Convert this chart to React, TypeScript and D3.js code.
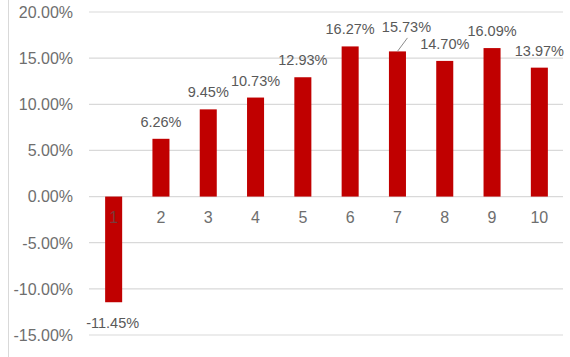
import React from "react";
import * as d3 from "d3";

const categories = ["1", "2", "3", "4", "5", "6", "7", "8", "9", "10"];
const values = [-11.45, 6.26, 9.45, 10.73, 12.93, 16.27, 15.73, 14.7, 16.09, 13.97];
const yTicks = [-15, -10, -5, 0, 5, 10, 15, 20];

const W = 570;
const H = 357;

export default function App() {
  const x = d3
    .scaleBand<string>()
    .domain(categories)
    .range([90, 563])
    .paddingInner(0.64)
    .paddingOuter(0.32);
  const y = d3.scaleLinear().domain([-15, 20]).range([335, 12]);
  const font = "'Liberation Sans', Arial, sans-serif";

  return (
    <svg
      width={W}
      height={H}
      style={{ position: "absolute", left: 0, top: 0, background: "#fff" }}
      fontFamily={font}
    >
      <line x1={8.5} x2={8.5} y1={0} y2={H} stroke="#d9d9d9" strokeWidth={1} />
      {yTicks.map((t) => (
        <g key={t}>
          <line x1={89} x2={563} y1={y(t)} y2={y(t)} stroke="#d9d9d9" strokeWidth={1.2} />
          <text
            x={73}
            y={y(t) + 5.8}
            textAnchor="end"
            fontSize={16}
            fill="#6e6e6e"
          >
            {t.toFixed(2) + "%"}
          </text>
        </g>
      ))}
      {values.map((v, i) => {
        const c = categories[i];
        const x0 = x(c)!;
        const bw = x.bandwidth();
        const top = y(Math.max(0, v));
        const h = Math.abs(y(v) - y(0));
        return (
          <rect key={c} x={x0} y={top} width={bw} height={h} fill="#c00000" />
        );
      })}
      {categories.map((c, i) => (
        <text
          key={"c" + c}
          x={x(c)! + x.bandwidth() / 2}
          y={y(0) + 26}
          textAnchor="middle"
          fontSize={16}
          fill={values[i] < 0 ? "#7a3a3a" : "#6e6e6e"}
        >
          {c}
        </text>
      ))}
      {values.map((v, i) => {
        const c = categories[i];
        const cx = x(c)! + x.bandwidth() / 2;
        const label = v.toFixed(2) + "%";
        if (v < 0) {
          return (
            <text key={"v" + c} x={cx - 1} y={y(v) + 26} textAnchor="middle" fontSize={14.5} fill="#595959">
              {label}
            </text>
          );
        }
        if (c === "7") {
          return (
            <g key={"v" + c}>
              <line x1={cx + 10} y1={y(v) - 13.5} x2={cx} y2={y(v)} stroke="#8c8c8c" strokeWidth={1} />
              <text x={cx + 9} y={y(v) - 19.5} textAnchor="middle" fontSize={14.5} fill="#595959">
                {label}
              </text>
            </g>
          );
        }
        return (
          <text key={"v" + c} x={cx} y={y(v) - 12} textAnchor="middle" fontSize={14.5} fill="#595959">
            {label}
          </text>
        );
      })}
    </svg>
  );
}
